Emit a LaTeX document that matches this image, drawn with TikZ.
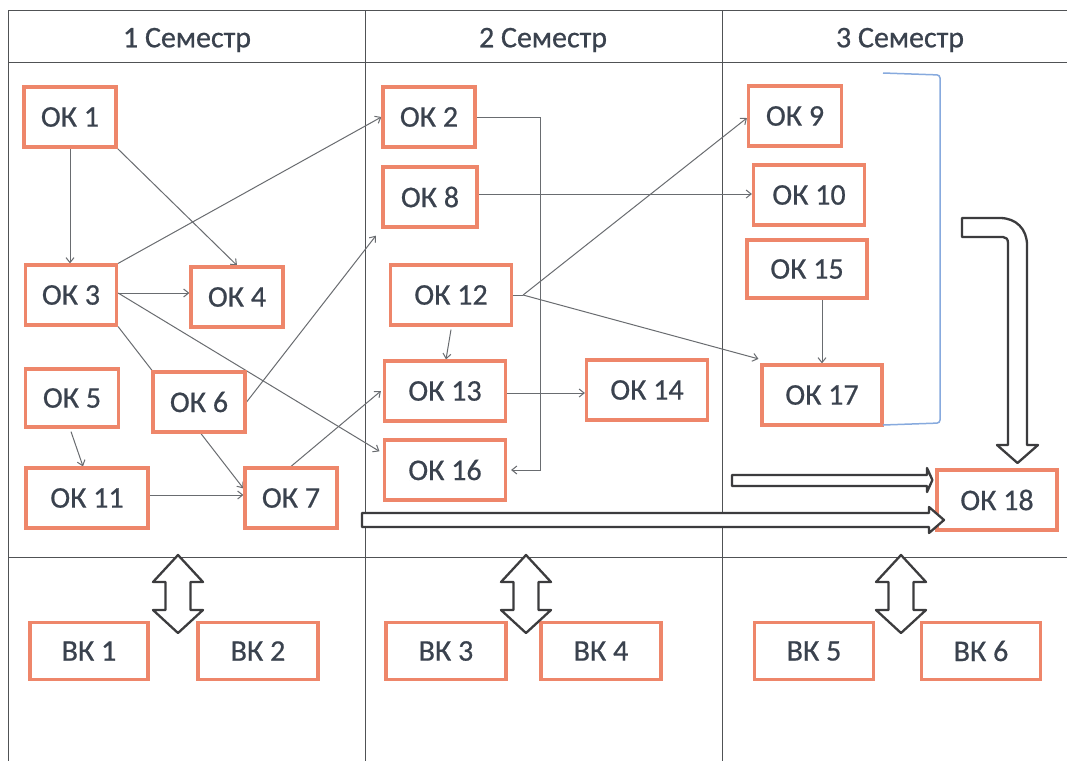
\documentclass[tikz,border=0pt]{standalone}
\usepackage{fontspec}
\setmainfont{Carlito}
\newfontfamily\boxfont{Carlito}[FakeBold=0.6]
\usetikzlibrary{arrows.meta,calc}
\definecolor{okorange}{RGB}{238,134,106}
\definecolor{txt}{RGB}{58,66,78}
\definecolor{lgray}{RGB}{105,108,112}
\definecolor{dgray}{RGB}{60,60,62}
\definecolor{tgray}{RGB}{80,82,85}
\definecolor{bblue}{RGB}{135,170,222}
\pgfdeclarelayer{bg}
\pgfsetlayers{bg,main}
\tikzset{
  ok/.style={draw=okorange, line width=3.2pt, fill=white, text=txt, inner sep=0pt,
    font=\boxfont\fontsize{30}{31}\selectfont, minimum height=60pt},
  hdr/.style={text=txt, font=\boxfont\fontsize{30}{31}\selectfont, inner sep=0pt},
  conn/.style={draw=lgray, line width=1pt, -{Straight Barb[length=5pt,width=8pt]}},
  plainconn/.style={draw=lgray, line width=1pt},
  hollow/.style={draw=dgray, line width=2.3pt, fill=white, line join=round},
  gridline/.style={draw=tgray, line width=1pt}
}
\begin{document}
\begin{tikzpicture}[x=1pt,y=-1pt]
\useasboundingbox (0,0) rectangle (1067,761);

% headers
\node[hdr] (H1) at (187,40) {1 Семестр};
\node[hdr] (H2) at (543,40) {2 Семестр};
\node[hdr] (H3) at (900,40) {3 Семестр};

% nodes
\node[ok, minimum width=92pt] (OK1) at (70,117) {ОК 1};
\node[ok, minimum width=92pt] (OK2) at (429,117) {ОК 2};
\node[ok, minimum width=94pt] (OK8) at (430,197) {ОК 8};
\node[ok, minimum width=91pt] (OK3) at (71,295) {ОК 3};
\node[ok, minimum width=92pt] (OK4) at (237,297) {ОК 4};
\node[ok, minimum width=93pt, minimum height=58pt] (OK5) at (72,398) {ОК 5};
\node[ok, minimum width=92pt] (OK6) at (199,402) {ОК 6};
\node[ok, minimum width=122pt] (OK11) at (87,498) {ОК 11};
\node[ok, minimum width=92pt] (OK7) at (291,498) {ОК 7};
\node[ok, minimum width=121pt] (OK12) at (451,295) {ОК 12};
\node[ok, minimum width=121pt] (OK13) at (445,391) {ОК 13};
\node[ok, minimum width=121pt] (OK16) at (445,470) {ОК 16};
\node[ok, minimum width=121pt] (OK14) at (647,390) {ОК 14};
\node[ok, minimum width=93pt] (OK9) at (795,116) {ОК 9};
\node[ok, minimum width=111pt] (OK10) at (809,195) {ОК 10};
\node[ok, minimum width=120pt, minimum height=58pt] (OK15) at (807,269) {ОК 15};
\node[ok, minimum width=120pt] (OK17) at (822,395) {ОК 17};
\node[ok, minimum width=120pt] (OK18) at (997,500) {ОК 18};

\node[ok, minimum width=118pt, minimum height=57pt] (BK1) at (89,651) {ВК 1};
\node[ok, minimum width=120pt, minimum height=57pt] (BK2) at (258,651) {ВК 2};
\node[ok, minimum width=120pt, minimum height=57pt] (BK3) at (446,651) {ВК 3};
\node[ok, minimum width=120pt, minimum height=57pt] (BK4) at (601,651) {ВК 4};
\node[ok, minimum width=119pt, minimum height=57pt] (BK5) at (814,651) {ВК 5};
\node[ok, minimum width=119pt, minimum height=57pt] (BK6) at (981,651) {ВК 6};

\coordinate (h12) at ([xshift=10pt]OK12.east);
\coordinate (elb) at (540,0);

\begin{pgfonlayer}{bg}
  \fill[white] (0,0) rectangle (1067,761);
  % table grid
  \draw[gridline] (8,10) -- (1067,10);
  \draw[gridline] (8,62) -- (1067,62);
  \draw[gridline] (8,557) -- (1067,557);
  \draw[gridline] (8,10) -- (8,761);
  \draw[gridline] (365,10) -- (365,761);
  \draw[gridline] (722,10) -- (722,761);

  % connectors
  \draw[conn] (OK1.south) -- (OK1.south |- OK3.north);
  \draw[conn] (OK1.south east) -- (OK4.north);
  \draw[conn] (OK3.north east) -- (OK2.west);
  \draw[conn] ([yshift=2pt]OK3.east) -- ([yshift=2pt]OK3.east -| OK4.west);
  \draw[conn, shorten >=4pt] ([yshift=2pt]OK3.east) -- ([yshift=-15pt]OK16.north west);
  \draw[conn] (OK3.south east) -- ([yshift=-22pt]OK7.north west);
  \draw[conn, shorten >=9pt] (OK6.east) -- (OK8.south west);
  \draw[conn] ([xshift=-1pt,yshift=-3pt]OK5.south) -- ([xshift=-4pt]OK11.north);
  \draw[conn] ([yshift=3pt]OK11.east) -- ([yshift=3pt]OK11.east -| OK7.west);
  \draw[conn] (OK7.north) -- ([xshift=-2pt]OK13.west);
  \draw[conn] ([yshift=-3pt]OK12.south) -- ([xshift=1pt]OK13.north);
  \draw[conn] ([yshift=-2pt]OK13.east) -- ([yshift=-2pt]OK13.east -| OK14.west);
  \draw[conn, shorten >=4pt] (OK2.east) -- (OK2.east -| elb) -- (elb |- OK16.east) -- (OK16.east);
  \draw[conn] ([yshift=3pt]OK8.east) -- ([yshift=3pt]OK8.east -| OK10.west);
  \draw[plainconn] (OK12.east) -- (h12);
  \draw[conn] (h12) -- ([yshift=-2pt]OK9.west);
  \draw[conn, shorten >=2pt] (h12) -- ([yshift=4pt]OK17.north west);
  \draw[conn] (OK17.north |- OK15.south) -- (OK17.north);
\end{pgfonlayer}

% blue bracket
\draw[bblue, line width=1.5pt, rounded corners=3pt] (883,73) -- (940,75) -- (940,423) -- (883,425);

% hollow arrows into OK18
\draw[hollow] (732,475) -- (927,475) -- (927,468) -- ([xshift=-3pt]OK18.west |- 0,480) -- (927,492) -- (927,486) -- (732,486) -- cycle;
\draw[hollow] (362,513) -- (929,513) -- (929,507) -- (944,520) -- (929,533) -- (929,527) -- (362,527) -- cycle;
% bent arrow
\draw[hollow] (962,218) -- (1000,218) .. controls (1016,218) and (1027,229) .. (1027,245)
  -- (1027,445) -- (1038,445) -- (1017.5,463) -- (997,445) -- (1008,445) -- (1008,243)
  .. controls (1008,239) and (1006,237) .. (1003,237) -- (962,237) -- cycle;

% vertical double arrows
\foreach \c in {178,526,901}{
  \draw[hollow] (\c,555) -- (\c+25,582) -- (\c+12.5,582) -- (\c+12.5,610) -- (\c+25,610)
    -- (\c,633) -- (\c-25,610) -- (\c-12.5,610) -- (\c-12.5,582) -- (\c-25,582) -- cycle;
}
\end{tikzpicture}
\end{document}
